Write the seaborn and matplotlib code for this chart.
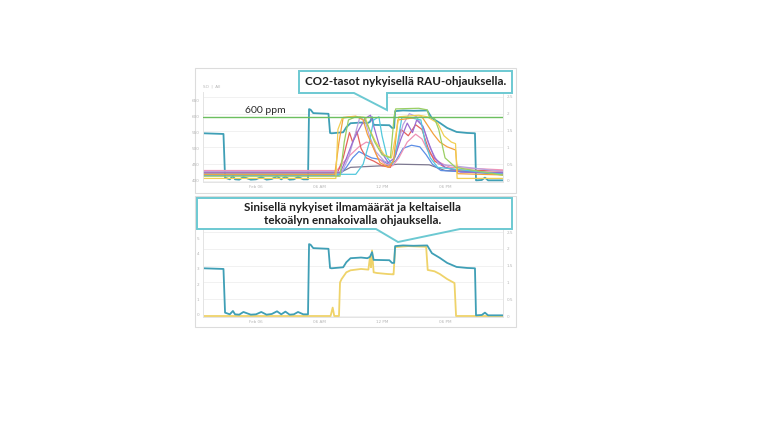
import numpy as np
import pandas as pd
import matplotlib
matplotlib.use("Agg")
import matplotlib.pyplot as plt
from matplotlib.patches import Polygon, Rectangle
import seaborn as sns

W, H = 768, 432

# aika tunteina 6.2. keskiyöstä
xtick_pos = [0, 6, 12, 18]
xtick_labels = ["Feb 06", "06 AM", "12 PM", "06 PM"]
flow_ticks = [0, 0.5, 1, 1.5, 2, 2.5]
flow_tick_labels = ["0", "0.5", "1", "1.5", "2", "2.5"]
ppm_ticks = [400, 450, 500, 550, 600, 650]
left_ticks_bottom = [0, 1, 2, 3, 4, 5]
co2_limit = 600

# nykyinen ilmamäärä (sininen)
flow_now_t = [-5.0, -3.1, -2.95, -2.5, -2.2, -2.0, -1.6, -1.2, -0.5, 0.0, 0.5, 1.0, 1.5, 2.0,
              2.4, 2.8, 3.2, 3.6, 4.0, 4.5, 4.95, 5.05, 5.2, 5.45, 6.9, 7.05, 7.2, 8.3, 8.6,
              9.0, 10.0, 10.6, 10.85, 11.05, 11.2, 12.7, 12.95, 13.15, 13.25, 14.0, 15.0,
              16.3, 16.75, 17.5, 18.2, 19.1, 20.1, 20.85, 20.95, 21.5, 21.8, 22.1, 23.5]
flow_now_v = [1.42, 1.40, 0.10, 0.05, 0.15, 0.05, 0.04, 0.12, 0.04, 0.05, 0.12, 0.04, 0.06, 0.14,
              0.05, 0.13, 0.04, 0.05, 0.12, 0.05, 0.05, 2.14, 2.12, 2.02, 2.00, 1.43, 1.42, 1.45,
              1.60, 1.72, 1.74, 1.72, 1.76, 1.90, 1.67, 1.66, 1.58, 1.58, 2.08, 2.10, 2.09,
              2.10, 1.87, 1.73, 1.58, 1.46, 1.43, 1.42, 0.02, 0.03, 0.10, 0.02, 0.02]

# tekoälyn ennakoiva ohjaus (keltainen)
flow_ai_t = [-5, 7.1, 7.3, 7.45, 7.9, 8.0, 8.15, 8.6, 9.0, 10.0, 10.7, 10.85, 10.95, 11.05,
             11.2, 11.5, 12.5, 13.0, 13.1, 13.25, 14.5, 16.2, 16.35, 17.0, 17.5, 18.2, 18.9,
             19.05, 23.5]
flow_ai_v = [0.0, 0.0, 0.25, 0.0, 0.0, 1.0, 1.1, 1.30, 1.36, 1.40, 1.38, 1.75, 1.45, 1.95,
             1.30, 1.28, 1.25, 1.24, 1.24, 2.05, 2.08, 2.06, 1.37, 1.33, 1.25, 1.10, 0.98,
             0.0, 0.0]

# CO2-tasot huoneittain (ppm)
co2_orange_t = [-5, 7.5, 7.9, 8.3, 9.5, 10.2, 10.6, 11.2, 11.8, 12.6, 13.1, 13.5, 15.8, 16.3,
                16.9, 17.5, 18.2, 19.0, 19.2, 23.5]
co2_orange_v = [418, 418, 520, 598, 602, 590, 545, 500, 455, 440, 460, 590, 600, 575, 545,
                520, 505, 495, 420, 416]
co2_yellow_t = [-5, 7.6, 7.8, 8.2, 9.0, 10.4, 10.8, 11.4, 12.2, 12.9, 13.3, 13.6, 15.5, 16.3,
                16.8, 17.3, 17.9, 18.6, 19.0, 19.15, 23.5]
co2_yellow_v = [405, 405, 560, 595, 600, 598, 560, 520, 480, 470, 540, 600, 605, 600, 590,
                580, 540, 520, 515, 405, 405]
co2_red_t = [-5, 7.8, 8.3, 8.9, 9.2, 9.6, 10.0, 10.5, 11.2, 12.0, 12.8, 13.3, 13.8, 14.5,
             15.2, 15.8, 16.4, 17.0, 18.0, 19.0, 23.5]
co2_red_v = [425, 425, 470, 550, 520, 555, 500, 470, 460, 445, 440, 480, 560, 540, 575, 560,
             500, 460, 440, 432, 428]
co2_pink_t = [-5, 7.7, 8.3, 9.0, 9.8, 10.5, 11.0, 11.6, 12.3, 13.0, 13.6, 14.4, 15.2, 15.8,
              16.4, 17.2, 18.5, 23.5]
co2_pink_v = [430, 430, 455, 480, 505, 520, 515, 470, 450, 445, 470, 520, 545, 530, 490, 460,
              440, 432]
co2_purple_t = [-5, 8.0, 8.5, 9.2, 9.8, 10.4, 10.9, 11.3, 11.9, 12.6, 13.2, 13.8, 14.4, 14.9,
                15.3, 15.9, 16.4, 17.0, 18.0, 19.5, 23.5]
co2_purple_v = [422, 422, 460, 520, 560, 595, 605, 560, 490, 455, 470, 530, 580, 550, 590,
                570, 520, 470, 440, 425, 423]
co2_blue_t = [-5, 7.9, 8.6, 9.2, 9.8, 10.4, 11.0, 11.8, 12.6, 13.3, 14.0, 14.8, 15.6, 16.2,
              16.8, 17.6, 23.5]
co2_blue_v = [415, 415, 440, 470, 490, 480, 470, 465, 450, 460, 500, 510, 505, 480, 450, 430,
              418]
co2_cyan_t = [-5, 9.5, 10.2, 10.8, 11.2, 11.7, 12.0, 12.5, 13.0, 13.5, 13.9, 15.0, 15.7, 16.1,
              16.6, 17.3, 23.5]
co2_cyan_v = [418, 418, 450, 520, 590, 600, 540, 470, 450, 520, 600, 595, 590, 520, 470, 440,
              418]
co2_green_t = [-5, 8.0, 8.4, 8.8, 9.5, 10.3, 10.8, 11.3, 12.0, 12.8, 13.15, 13.3, 15.5, 16.3,
               16.5, 17.0, 17.4, 18.0, 19.0, 23.5]
co2_green_v = [412, 412, 520, 590, 600, 598, 560, 520, 480, 470, 600, 625, 627, 622, 600,
               595, 560, 470, 440, 415]
co2_lavender_t = [-5, 8.2, 8.8, 9.4, 9.9, 10.4, 10.8, 11.4, 12.2, 13.0, 13.4, 14.0, 14.6,
                  15.3, 16.0, 16.6, 17.4, 23.5]
co2_lavender_v = [426, 426, 470, 540, 600, 585, 540, 490, 460, 450, 500, 575, 610, 600, 560,
                  500, 450, 427]
co2_gray_t = [-5, 8.0, 9.0, 12.0, 13.5, 16.5, 18.0, 23.5]
co2_gray_v = [423, 423, 440, 445, 450, 448, 430, 422]

co2_colors = {
    "orange": "#f3a13c", "yellow": "#f2cf52", "red": "#e5625c", "pink": "#ef93b6",
    "purple": "#9a6cd0", "blue": "#5c8ee6", "cyan": "#53c8dc", "green": "#9bcf63",
    "lavender": "#b8a3e0", "gray": "#7d7890",
}
co2_series = {
    "gray": (co2_gray_t, co2_gray_v),
    "blue": (co2_blue_t, co2_blue_v),
    "pink": (co2_pink_t, co2_pink_v),
    "red": (co2_red_t, co2_red_v),
    "lavender": (co2_lavender_t, co2_lavender_v),
    "purple": (co2_purple_t, co2_purple_v),
    "cyan": (co2_cyan_t, co2_cyan_v),
    "orange": (co2_orange_t, co2_orange_v),
    "yellow": (co2_yellow_t, co2_yellow_v),
    "green": (co2_green_t, co2_green_v),
}

TEAL = "#3f9fb6"
AI_YELLOW = "#efd36a"
BORDER = "#6cc9d2"
GRID = "#efefef"
TICKC = "#b5b5b5"


def long_df(series):
    parts = []
    for name, (t, v) in series.items():
        parts.append(pd.DataFrame({"t": t, "v": v, "sarja": name}))
    return pd.concat(parts, ignore_index=True)


def px_axes(fig, x0, y0, x1, y1):
    return fig.add_axes([x0 / W, 1 - y1 / H, (x1 - x0) / W, (y1 - y0) / H])


def fx(x):
    return x / W


def fy(y):
    return 1 - y / H


def style_pair(ax_left, ax_right):
    for a in (ax_left, ax_right):
        a.set_xlim(-5.05, 23.52)
        a.spines["top"].set_visible(False)
        for s in ["left", "right", "bottom"]:
            a.spines[s].set_color("#e4e4e4")
            a.spines[s].set_linewidth(0.6)
        a.tick_params(axis="both", which="major", length=0, labelsize=3, labelcolor=TICKC, pad=2.5)
        a.set_xlabel("")
        a.set_ylabel("")
    ax_right.grid(axis="y", color=GRID, linewidth=0.6)
    ax_right.set_axisbelow(True)
    ax_left.grid(False)
    ax_left.set_xticks(xtick_pos)
    ax_left.set_xticklabels(xtick_labels)
    ax_left.set_xticks([0], minor=True)
    ax_left.tick_params(axis="x", which="minor", length=3, color="#cccccc", width=0.6)
    ax_right.set_yticks(flow_ticks)
    ax_right.set_yticklabels(flow_tick_labels)
    ax_right.set_zorder(2)
    ax_left.set_zorder(3)
    ax_left.patch.set_visible(False)


sns.set_style("white")
fig = plt.figure(figsize=(W / 100, H / 100), dpi=100)
fig.patch.set_facecolor("white")

# paneelien kehykset (kuvakaappaukset)
for (x0, y0, x1, y1) in [(195, 68, 516, 193), (195, 196, 516, 327)]:
    fig.add_artist(Rectangle((fx(x0), fy(y1)), fx(x1 - x0), (y1 - y0) / H,
                             transform=fig.transFigure, facecolor="white",
                             edgecolor="#dcdcdc", linewidth=0.8, zorder=0.5))

# --- ylempi kaavio: CO2-tasot ---
ax_top = px_axes(fig, 203, 92, 503, 182)
ax_top_r = ax_top.twinx()
ax_top_r.set_ylim(-1 / 33.6, 89 / 33.6)
ax_top.set_ylim(400 - 2 / 0.316, 400 + 88 / 0.316)

sns.lineplot(x=flow_now_t, y=flow_now_v, ax=ax_top_r, color=TEAL, linewidth=1.3)
co2_df = long_df(co2_series)
sns.lineplot(data=co2_df, x="t", y="v", hue="sarja", palette=co2_colors, estimator=None,
             sort=False, legend=False, linewidth=0.9, ax=ax_top)
ax_top.axhline(co2_limit, color="#6cbf5f", linewidth=1.0, zorder=3)
ax_top.set_yticks(ppm_ticks)
ax_top.set_yticklabels([str(v) for v in ppm_ticks])
style_pair(ax_top, ax_top_r)
fig.text(fx(245), fy(110.5), "600 ppm", fontsize=7.5, color="#2a2a2a",
         family=["Lato", "DejaVu Sans"], va="center", zorder=6)
fig.text(fx(203), fy(87), "SO  |  All", fontsize=3, color=TICKC, va="center", zorder=6)

# --- alempi kaavio: ilmamäärät ---
ax_bot = px_axes(fig, 203, 228, 503, 317)
ax_bot_r = ax_bot.twinx()
ax_bot_r.set_ylim(-1 / 33.6, 88 / 33.6)
ax_bot.set_ylim(-2 / 15.4, 87 / 15.4)
flow_df = pd.concat([
    pd.DataFrame({"t": flow_ai_t, "v": flow_ai_v, "sarja": "ai"}),
    pd.DataFrame({"t": flow_now_t, "v": flow_now_v, "sarja": "nyt"}),
], ignore_index=True)
sns.lineplot(data=flow_df, x="t", y="v", hue="sarja",
             palette={"ai": AI_YELLOW, "nyt": TEAL}, estimator=None, sort=False,
             legend=False, linewidth=1.3, ax=ax_bot_r)
ax_bot.set_yticks(left_ticks_bottom)
ax_bot.set_yticklabels([str(v) for v in left_ticks_bottom])
style_pair(ax_bot, ax_bot_r)

# --- puhekuplat ---
cfont = ["Lato", "DejaVu Sans"]
top_bubble = [(299, 71), (512, 71), (512, 93), (387, 93), (387, 110), (354, 93), (299, 93)]
bot_bubble = [(197, 198), (512, 198), (512, 229), (460, 229), (398, 242), (376, 229), (197, 229)]
for pts in (top_bubble, bot_bubble):
    fig.add_artist(Polygon([(fx(x), fy(y)) for x, y in pts], closed=True,
                           transform=fig.transFigure, facecolor="white",
                           edgecolor=BORDER, linewidth=1.4, zorder=5))

fig.text(fx(405.5), fy(81.5), "CO2-tasot nykyisellä RAU-ohjauksella.", ha="center", va="center",
         fontsize=8.4, fontweight="bold", color="#1f1f1f", family=cfont, zorder=6)
fig.text(fx(353), fy(214),
         "Sinisellä nykyiset ilmamäärät ja keltaisella\ntekoälyn ennakoivalla ohjauksella.",
         ha="center", va="center", fontsize=8.4, fontweight="bold", color="#1f1f1f",
         family=cfont, linespacing=1.3, zorder=6)

fig.savefig("out.png", dpi=100, facecolor="white")
